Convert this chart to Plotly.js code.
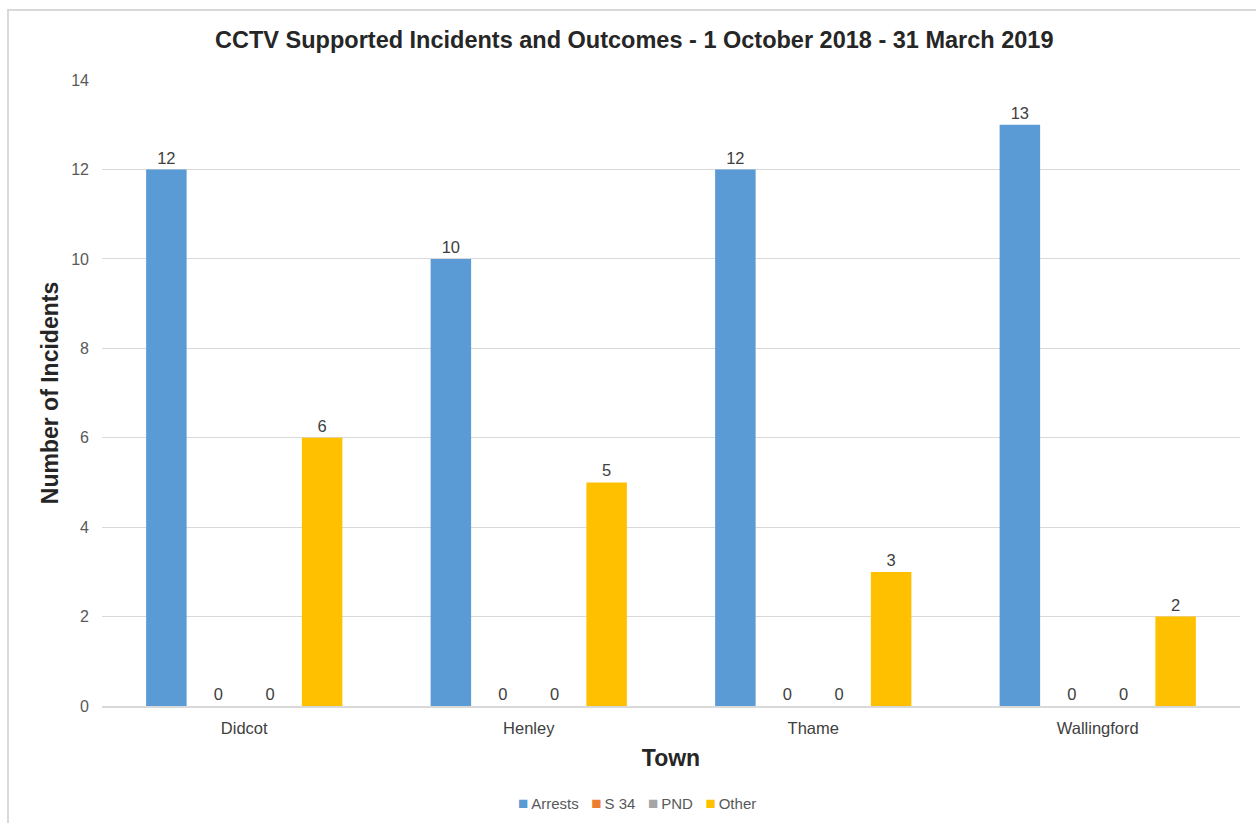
<!DOCTYPE html>
<html>
<head>
<meta charset="utf-8">
<script src="https://cdn.plot.ly/plotly-3.0.1.min.js"></script>
<style>
  html, body { margin: 0; padding: 0; background: #fff; }
  #wrap { position: relative; width: 1256px; height: 823px; overflow: hidden; }
  #chart { position: absolute; left: 0; top: 0; width: 1256px; height: 823px; }
  #frame { position: absolute; left: 7px; top: 9px; width: 1300px; height: 900px;
           border-left: 2px solid #D9D9D9; border-top: 2px solid #D9D9D9; pointer-events: none; }
</style>
</head>
<body>
<div id="wrap">
  <div id="chart"></div>
  <div id="frame"></div>
</div>
<script>
const towns = ["Didcot", "Henley", "Thame", "Wallingford"];
const arrests = [12, 10, 12, 13];
const s34 = [0, 0, 0, 0];
const pnd = [0, 0, 0, 0];
const other = [6, 5, 3, 2];

const seriesNames = ["Arrests", "S 34", "PND", "Other"];
const seriesValues = [arrests, s34, pnd, other];
const seriesColors = ["#5B9BD5", "#ED7D31", "#A5A5A5", "#FFC000"];

const FONT = "Liberation Sans, Arial, sans-serif";

const traces = seriesNames.map((name, i) => ({
  type: "bar",
  name: name,
  x: towns,
  y: seriesValues[i],
  marker: { color: seriesColors[i] },
  text: seriesValues[i].map(String),
  textposition: "outside",
  cliponaxis: false,
  textfont: { family: FONT, size: 16.5, color: "#404040" },
  showlegend: false
}));

// Compact legend built from the series names and colours
const legendText = seriesNames.map((n, i) =>
  "<span style='color:" + seriesColors[i] + ";font-size:17px'>■</span>&#8201;" + n
).join("&nbsp;&nbsp;&nbsp;");

const layout = {
  width: 1256,
  height: 823,
  paper_bgcolor: "rgba(0,0,0,0)",
  plot_bgcolor: "#fff",
  margin: { l: 102, r: 16, t: 80, b: 117, autoexpand: false },
  barmode: "group",
  bargap: 0.27,
  bargroupgap: 0.22,
  title: {
    text: "<b>CCTV Supported Incidents and Outcomes - 1 October 2018 - 31 March 2019</b>",
    font: { family: FONT, size: 23.5, color: "#262626" },
    x: 0.505, xref: "container", xanchor: "center",
    y: 40, yref: "container", yanchor: "middle"
  },
  xaxis: {
    title: { text: "<b>Town</b>", font: { family: FONT, size: 23, color: "#262626" }, standoff: 14 },
    tickfont: { family: FONT, size: 16.5, color: "#404040" },
    ticklabelstandoff: 6,
    showline: true, linecolor: "#D9D9D9", linewidth: 2,
    ticks: "", showgrid: false, automargin: false
  },
  yaxis: {
    title: { text: "<b>Number of Incidents</b>", font: { family: FONT, size: 23, color: "#262626" }, standoff: 6 },
    range: [0, 14.002],
    tickvals: [0, 2, 4, 6, 8, 10, 12, 14],
    tickfont: { family: FONT, size: 16, color: "#595959" },
    ticklabelstandoff: 12,
    showgrid: true, gridcolor: "#D9D9D9", gridwidth: 1,
    zeroline: false, showline: false, ticks: "",
    automargin: false
  },
  annotations: [{
    text: legendText,
    xref: "paper", yref: "paper",
    x: (637 - 102) / 1138, y: (706 - 803) / 626,
    xanchor: "center", yanchor: "middle",
    showarrow: false,
    font: { family: FONT, size: 15, color: "#595959" }
  }],
  showlegend: false
};

Plotly.newPlot("chart", traces, layout, { displayModeBar: false, staticPlot: true });
</script>
</body>
</html>
